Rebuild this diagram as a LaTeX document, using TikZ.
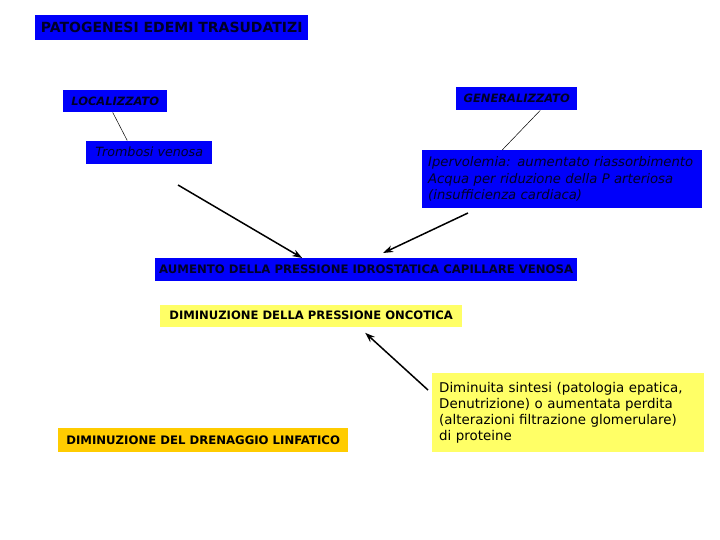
\documentclass[tikz,border=0pt]{standalone}
\usepackage{fontspec}
\setmainfont{DejaVu Sans}
\usetikzlibrary{arrows.meta,positioning}
\definecolor{edblue}{RGB}{0,0,250}
\definecolor{edink}{RGB}{0,0,40}
\definecolor{edyellow}{RGB}{255,255,102}
\definecolor{edgold}{RGB}{255,204,0}

\begin{document}
\begin{tikzpicture}[x=1pt, y=-1pt, >={Stealth[length=10pt,width=7pt]},
    bluebox/.style={fill=edblue, text=edink, inner sep=0pt, anchor=north west, align=center},
    ybox/.style={fill=edyellow, text=black, inner sep=0pt, anchor=north west, align=center},
    link/.style={draw=black, line width=0.5pt},
    push/.style={->, draw=black, line width=1.5pt}]
    \useasboundingbox (0,0) rectangle (720,540);

    \node[bluebox, minimum width=273pt, minimum height=25pt, font=\fontsize{14}{16}\selectfont\bfseries] (titolo) at (35,15) {PATOGENESI EDEMI TRASUDATIZI};
    \node[bluebox, minimum width=104pt, minimum height=22pt, font=\fontsize{11.5}{13}\selectfont\bfseries\itshape] (loc) at (63,90) {LOCALIZZATO};
    \node[bluebox, below right=28pt and 23pt of loc.south west, minimum width=126pt, minimum height=23pt, font=\fontsize{12.7}{14}\selectfont\itshape] (tromb) {Trombosi venosa};
    \node[bluebox, minimum width=121pt, minimum height=23pt, font=\fontsize{11.5}{13}\selectfont\bfseries\itshape] (gen) at (456,87) {GENERALIZZATO};
    \node[bluebox, align=left, text width=268pt, inner xsep=6pt, minimum height=58pt, font=\fontsize{13.2}{16.5}\selectfont\itshape] (iper) at (422,150)
        {Ipervolemia: aumentato riassorbimento\\Acqua per riduzione della P arteriosa\\(insufficienza cardiaca)};
    \node[bluebox, minimum width=422pt, minimum height=23pt, font=\fontsize{11.7}{13}\selectfont\bfseries] (aum) at (155,258) {AUMENTO DELLA PRESSIONE IDROSTATICA CAPILLARE VENOSA};
    \node[ybox, below right=23pt and 5pt of aum.south west, minimum width=302pt, minimum height=22pt, font=\fontsize{11.6}{13}\selectfont\bfseries] (onc) {DIMINUZIONE DELLA PRESSIONE ONCOTICA};
    \node[ybox, fill=edgold, minimum width=290pt, minimum height=24pt, font=\fontsize{11.7}{13}\selectfont\bfseries] (dren) at (58,428) {DIMINUZIONE DEL DRENAGGIO LINFATICO};
    \node[ybox, align=left, text width=258pt, inner xsep=7pt, minimum height=79pt, font=\fontsize{13.4}{16}\selectfont] (dimin) at (432,373)
        {Diminuita sintesi (patologia epatica,\\Denutrizione) o aumentata perdita\\(alterazioni filtrazione glomerulare)\\di proteine};

    % free ends of the arrows
    \coordinate (da) at (178,185);
    \coordinate (db) at (468,213);
    \coordinate (dc) at (428,390);

    \draw[link] ([xshift=-2.5pt]loc.south) -- ([xshift=-22pt]tromb.north);
    \draw[link] ([xshift=23.5pt]gen.south) -- ([xshift=-60pt]iper.north);
    \draw[push] (da) -- ([xshift=-64pt]aum.north);
    \draw[push] (db) -- ([xshift=17pt, yshift=5pt]aum.north);
    \draw[push] (dc) -- ([xshift=54pt, yshift=-6pt]onc.south);
\end{tikzpicture}
\end{document}
